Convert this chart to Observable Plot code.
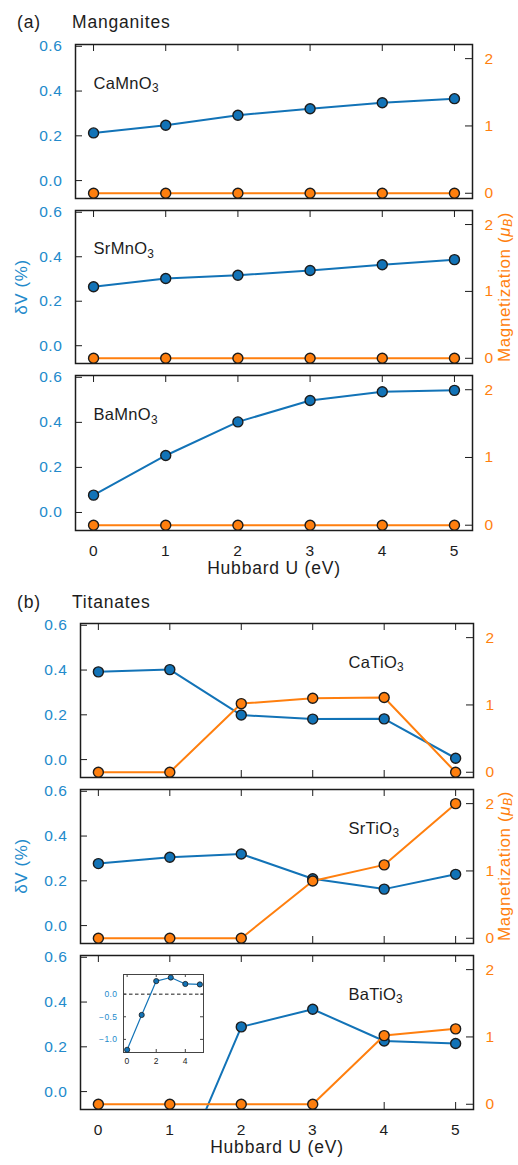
<!DOCTYPE html>
<html>
<head>
<meta charset="utf-8">
<script src="https://cdn.jsdelivr.net/npm/d3@7"></script>
<script src="https://cdn.jsdelivr.net/npm/@observablehq/plot@0.6"></script>
<style>
  html, body { margin: 0; padding: 0; background: #fff; }
  #fig { position: relative; width: 518px; height: 1165px; overflow: hidden; background: #fff;
         font-family: "Liberation Sans", Arial, Helvetica, sans-serif; color: #1c1c1c; }
  #fig > * { position: absolute; }
  .head { font-size: 17.5px; line-height: 18px; letter-spacing: 0.8px; white-space: nowrap; }
  .ylab { font-size: 17px; line-height: 18px; letter-spacing: 0.6px; white-space: nowrap; transform: translate(-50%, -50%) rotate(-90deg); }
  .ylab sub { font-size: 0.7em; vertical-align: -0.2em; line-height: 0; }
</style>
</head>
<body>
<div id="fig"></div>
<script>
// ---- data ----------------------------------------------------------------
const hubbardU = [0, 1, 2, 3, 4, 5];

// volume change δV (%) and magnetization (μB) versus Hubbard U
const dvCaMnO3 = [0.213, 0.247, 0.292, 0.321, 0.348, 0.366];
const magCaMnO3 = [0, 0, 0, 0, 0, 0];
const dvSrMnO3 = [0.265, 0.302, 0.317, 0.338, 0.364, 0.387];
const magSrMnO3 = [0, 0, 0, 0, 0, 0];
const dvBaMnO3 = [0.077, 0.253, 0.402, 0.497, 0.536, 0.542];
const magBaMnO3 = [0, 0, 0, 0, 0, 0];

const dvCaTiO3 = [0.392, 0.402, 0.199, 0.181, 0.182, 0.006];
const magCaTiO3 = [0, 0, 1.02, 1.10, 1.11, 0];
const dvSrTiO3 = [0.277, 0.305, 0.320, 0.209, 0.163, 0.229];
const magSrTiO3 = [0, 0, 0, 0.85, 1.09, 2.0];
const dvBaTiO3 = [-1.23, -0.46, 0.289, 0.368, 0.226, 0.215];
const magBaTiO3 = [0, 0, 0, 0, 1.02, 1.12];

const dvTicks = [0, 0.2, 0.4, 0.6];
const magTicks = [0, 1, 2];
const insetDvTicks = [-1.0, -0.5, 0.0];
const insetUTicks = [0, 2, 4];

const xTitle = "Hubbard U (eV)";

// ---- scales & layout ----------------------------------------------------
const uDomain = [-0.25, 5.25];
const dvDomain = [-0.08, 0.608];
const magDomain = [-0.078, 2.21];
const insetDomain = [-1.29, 0.435];

const groups = [
  { tag: "(a)", title: "Manganites", headTop: 13, left: 75, right: 472, nameU: 0,
    panels: [
      { name: "CaMnO3", dv: dvCaMnO3, mag: magCaMnO3, top: 44, bottom: 198 },
      { name: "SrMnO3", dv: dvSrMnO3, mag: magSrMnO3, top: 210, bottom: 363 },
      { name: "BaMnO3", dv: dvBaMnO3, mag: magBaMnO3, top: 375, bottom: 530 }
    ] },
  { tag: "(b)", title: "Titanates", headTop: 593, left: 80, right: 473, nameU: 3.5,
    panels: [
      { name: "CaTiO3", dv: dvCaTiO3, mag: magCaTiO3, top: 623, bottom: 777 },
      { name: "SrTiO3", dv: dvSrTiO3, mag: magSrTiO3, top: 789, bottom: 943 },
      { name: "BaTiO3", dv: dvBaTiO3, mag: magBaTiO3, top: 955, bottom: 1109 }
    ] }
];

const ink = "#1c1c1c";
const blueMark = "#1273b7";
const blueText = "#238acb";
const orange = "#ff7f0e";
const fontFamily = '"Liberation Sans", Arial, sans-serif';

const fig = document.getElementById("fig");
function put(node, left, top) {
  node.style.left = left + "px";
  node.style.top = top + "px";
  fig.appendChild(node);
  return node;
}
function html(cls, content, left, top, extra = {}) {
  const d = document.createElement("div");
  d.className = cls;
  d.innerHTML = content;
  Object.assign(d.style, extra);
  return put(d, left, top);
}

// chemical formulas: trailing digits become subscripts
function subscriptFormulas(svg) {
  svg.querySelectorAll('g[aria-label="text"] text').forEach(t => {
    const m = t.textContent.match(/^([A-Za-z]+)(\d+)$/);
    if (!m) return;
    t.textContent = m[1];
    const s = document.createElementNS("http://www.w3.org/2000/svg", "tspan");
    s.setAttribute("font-size", "0.72em");
    s.setAttribute("dy", "0.32em");
    s.textContent = m[2];
    t.appendChild(s);
  });
}

function drawPanel(p, g, isLast) {
  const W = 518;
  const mt = 12, mb = isLast ? 62 : 12;
  const fw = g.right - g.left, fh = p.bottom - p.top;
  const rows = hubbardU.map((u, i) => ({ u, dv: p.dv[i], mag: p.mag[i] }));
  const base = {
    width: W, height: fh + mt + mb,
    marginLeft: g.left, marginRight: W - g.right, marginTop: mt, marginBottom: mb,
    x: { domain: uDomain, axis: null },
    style: { background: "transparent", overflow: "visible", fontFamily, fontSize: "15.5px", letterSpacing: "0.6px", color: ink }
  };

  // δV on the left axis
  const dvPlot = Plot.plot({
    ...base,
    y: { domain: dvDomain, axis: null },
    marks: [
      Plot.frame({ stroke: ink, strokeWidth: 1.5 }),
      Plot.tickY(dvTicks, { y: d => d, stroke: ink, insetRight: fw - 7 }),
      Plot.tickX(hubbardU, { x: d => d, stroke: ink, insetBottom: fh - 7 }),
      Plot.tickX(hubbardU, { x: d => d, stroke: ink, insetTop: fh - 7 }),
      Plot.axisY(dvTicks, { anchor: "left", tickSize: 0, tickPadding: 13, tickFormat: d3.format(".1f"), fill: blueText, label: null }),
      isLast ? Plot.axisX(hubbardU, { anchor: "bottom", tickSize: 0, tickPadding: 14, fill: ink, label: null }) : null,
      isLast ? Plot.text([xTitle], { text: d => d, frameAnchor: "bottom", dy: 43, fontSize: 17.5, fill: ink }) : null,
      Plot.text([p.name], { text: d => d, x: g.nameU, y: 0.435, textAnchor: "start", fontSize: 16.5, fill: ink }),
      Plot.line(rows, { x: "u", y: "dv", stroke: blueMark, strokeWidth: 2, clip: true }),
      Plot.dot(rows, { x: "u", y: "dv", r: 5, fill: blueMark, stroke: ink, strokeWidth: 1.4, clip: true })
    ].filter(Boolean)
  });
  subscriptFormulas(dvPlot);
  dvPlot.querySelectorAll('g[aria-label="text"] text').forEach(t => {
    t.style.letterSpacing = t.textContent === xTitle ? "0.8px" : "0.3px";
  });

  // magnetization on the right axis
  const magPlot = Plot.plot({
    ...base,
    y: { domain: magDomain, axis: null },
    marks: [
      Plot.tickY(magTicks, { y: d => d, stroke: ink, insetLeft: fw - 7 }),
      Plot.axisY(magTicks, { anchor: "right", tickSize: 0, tickPadding: 12, tickFormat: d3.format("d"), fill: orange, label: null }),
      Plot.line(rows, { x: "u", y: "mag", stroke: orange, strokeWidth: 2 }),
      Plot.dot(rows, { x: "u", y: "mag", r: 5, fill: orange, stroke: ink, strokeWidth: 1.4 })
    ]
  });

  put(dvPlot, 0, p.top - mt);
  put(magPlot, 0, p.top - mt);
}

for (const g of groups) {
  html("head", g.tag, 17, g.headTop);
  html("head", g.title, 72, g.headTop);
  g.panels.forEach((p, i) => drawPanel(p, g, i === g.panels.length - 1));
  const mid = g.panels[1];
  const cy = (mid.top + mid.bottom) / 2;
  html("ylab", "δV (%)", 22, cy, { color: blueText });
  html("ylab", 'Magnetization (<i>μ</i><sub><i>B</i></sub>)', 505, cy, { color: orange });
}

// inset: full δV range of BaTiO3
{
  const fw = 80, fh = 78, ml = 30, mt = 4;
  const insetRows = hubbardU.map((u, i) => ({ u, dv: dvBaTiO3[i] }));
  const inset = Plot.plot({
    width: fw + ml + 6, height: fh + mt + 18,
    marginLeft: ml, marginRight: 6, marginTop: mt, marginBottom: 18,
    x: { domain: uDomain, axis: null },
    y: { domain: insetDomain, axis: null },
    style: { background: "transparent", overflow: "visible", fontFamily, fontSize: "8.5px", letterSpacing: "0.4px", color: ink },
    marks: [
      Plot.ruleY([0], { stroke: ink, strokeDasharray: "3.5,2.5", strokeWidth: 1 }),
      Plot.frame({ stroke: "#444", strokeWidth: 1 }),
      Plot.tickY(insetDvTicks, { y: d => d, stroke: "#444", insetRight: fw - 3 }),
      Plot.tickY(insetDvTicks, { y: d => d, stroke: "#444", insetLeft: fw - 3 }),
      Plot.tickX(insetUTicks, { x: d => d, stroke: "#444", insetBottom: fh - 3 }),
      Plot.tickX(insetUTicks, { x: d => d, stroke: "#444", insetTop: fh - 3 }),
      Plot.axisY(insetDvTicks, { anchor: "left", tickSize: 0, tickPadding: 6, tickFormat: d3.format(".1f"), fill: blueText, label: null }),
      Plot.axisX(insetUTicks, { anchor: "bottom", tickSize: 0, tickPadding: 5, fill: ink, label: null }),
      Plot.line(insetRows, { x: "u", y: "dv", stroke: blueMark, strokeWidth: 1.2 }),
      Plot.dot(insetRows, { x: "u", y: "dv", r: 2.6, fill: blueMark, stroke: ink, strokeWidth: 0.8 })
    ]
  });
  put(inset, 123 - ml, 974 - mt);
}
</script>
</body>
</html>
